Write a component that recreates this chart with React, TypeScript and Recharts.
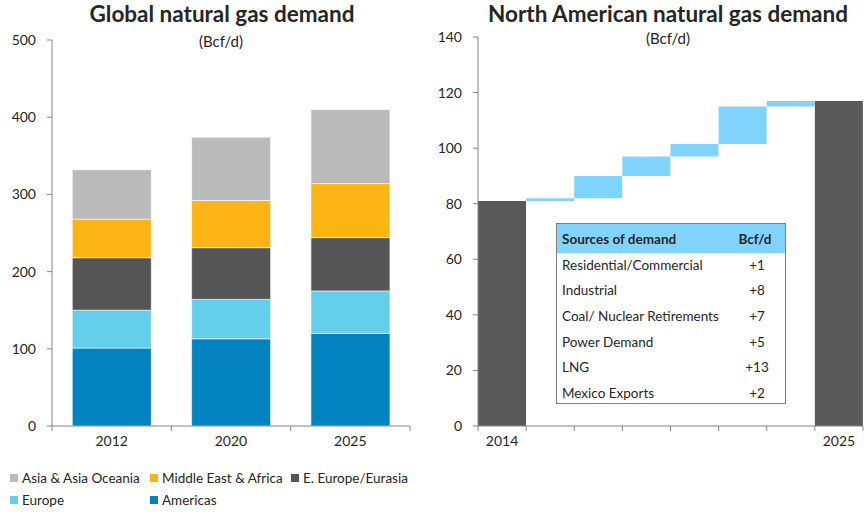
import { BarChart, Bar, XAxis, YAxis } from "recharts";

// left chart: global demand by region (Bcf/d)
const globalYears = ["2012", "2020", "2025"];
const americas = [101, 113, 120];
const europe = [49, 51, 55];
const eEurope = [68, 67, 69];
const middleEast = [50, 61, 70];
const asiaOceania = [64, 82, 96];
const globalTicks = [0, 100, 200, 300, 400, 500];

// right chart: North American waterfall (Bcf/d)
const naStartLabel = "2014";
const naEndLabel = "2025";
const naStart = 81;
const naEnd = 117;
const sources = [
  "Residential/Commercial",
  "Industrial",
  "Coal/ Nuclear Retirements",
  "Power Demand",
  "LNG",
  "Mexico Exports",
];
const sourceSteps = [1, 8, 7, 4.5, 13.5, 2];
const sourceLabels = ["+1", "+8", "+7", "+5", "+13", "+2"];
const naTicks = [0, 20, 40, 60, 80, 100, 120, 140];

const FONT = "Lato, 'Open Sans', sans-serif";
const TEXT = "#262626";
const AXIS = "#868686";

const globalSeries = [
  { key: "americas", name: "Americas", color: "#0283BF", values: americas },
  { key: "europe", name: "Europe", color: "#65CEEA", values: europe },
  { key: "eEurope", name: "E. Europe/Eurasia", color: "#555555", values: eEurope },
  { key: "middleEast", name: "Middle East & Africa", color: "#FDB515", values: middleEast },
  { key: "asia", name: "Asia & Asia Oceania", color: "#BBBBBB", values: asiaOceania },
];

const globalData = globalYears.map((year, i) => {
  const row: Record<string, string | number> = { year };
  globalSeries.forEach((s) => (row[s.key] = s.values[i]));
  return row;
});

const naData = (() => {
  const rows = [{ name: naStartLabel, base: 0, step: 0, total: naStart }];
  let running = naStart;
  sources.forEach((src, i) => {
    rows.push({ name: src, base: running, step: sourceSteps[i], total: 0 });
    running += sourceSteps[i];
  });
  rows.push({ name: naEndLabel, base: 0, step: 0, total: naEnd });
  return rows;
})();

const TICK_GAP = 10;

// Excel-style category ticks: marks sit on the boundaries between categories
function BoundaryTick(props: any) {
  const { x, y, payload, index, visibleTicksCount, showLabel } = props;
  const half = payload?.offset ?? 0;
  const axisY = y - TICK_GAP;
  const label = showLabel ? showLabel(payload.value, index, visibleTicksCount) : payload.value;
  return (
    <g>
      <line x1={x - half} x2={x - half} y1={axisY} y2={axisY + 5} stroke={AXIS} />
      {index === visibleTicksCount - 1 && (
        <line x1={x + half} x2={x + half} y1={axisY} y2={axisY + 5} stroke={AXIS} />
      )}
      <text x={x} y={y} dy="0.71em" textAnchor="middle" fill={TEXT} fontSize={14} fontFamily={FONT}>
        {label}
      </text>
    </g>
  );
}

const legendRows = [
  ["asia", "middleEast", "eEurope"],
  ["europe", "americas"],
];

export default function App() {
  return (
    <div
      style={{
        position: "absolute",
        left: 0,
        top: 0,
        width: 864,
        height: 514,
        background: "#fff",
        fontFamily: FONT,
        color: TEXT,
      }}
    >
      <div style={{ position: "absolute", left: 0, width: 444, top: 0, textAlign: "center", fontWeight: 700, fontSize: 22.5 }}>
        Global natural gas demand
      </div>
      <div style={{ position: "absolute", left: 0, width: 442, top: 32, textAlign: "center", fontSize: 15 }}>
        (Bcf/d)
      </div>
      <div style={{ position: "absolute", left: 440, width: 456, top: 0, textAlign: "center", fontWeight: 700, fontSize: 22.5 }}>
        North American natural gas demand
      </div>
      <div style={{ position: "absolute", left: 440, width: 456, top: 29, textAlign: "center", fontSize: 15 }}>
        (Bcf/d)
      </div>

      <div style={{ position: "absolute", left: 0, top: 0 }}>
        <BarChart
          width={430}
          height={460}
          data={globalData}
          margin={{ top: 40, right: 20, bottom: 0, left: 0 }}
          barCategoryGap="17%"
        >
          <XAxis
            dataKey="year"
            height={34}
            axisLine={{ stroke: AXIS }}
            tickSize={0}
            tickMargin={TICK_GAP}
            tick={<BoundaryTick />}
            interval={0}
          />
          <YAxis
            width={52}
            domain={[0, 500]}
            ticks={globalTicks}
            interval={0}
            axisLine={{ stroke: AXIS }}
            tickLine={{ stroke: AXIS }}
            tickSize={5}
            tickMargin={11}
            tick={{ fill: TEXT, fontSize: 14, fontFamily: FONT }}
          />
          {globalSeries.map((s) => (
            <Bar
              key={s.key}
              dataKey={s.key}
              name={s.name}
              stackId="g"
              fill={s.color}
              stroke="#ffffff"
              strokeWidth={0.6}
              isAnimationActive={false}
            />
          ))}
        </BarChart>
      </div>

      <div style={{ position: "absolute", left: 0, top: 468, width: 430, fontSize: 13.5 }}>
        {legendRows.map((row, r) =>
          row.map((key, c) => {
            const s = globalSeries.find((g) => g.key === key)!;
            return (
              <div
                key={key}
                style={{
                  position: "absolute",
                  left: [10, 150, 291][c],
                  top: r * 22,
                  display: "flex",
                  alignItems: "center",
                  height: 20,
                  whiteSpace: "nowrap",
                }}
              >
                <span style={{ width: 8, height: 8, background: s.color, display: "inline-block", marginRight: 4 }} />
                <span>{s.name}</span>
              </div>
            );
          })
        )}
      </div>

      <div style={{ position: "absolute", left: 432, top: 0 }}>
        <BarChart
          width={432}
          height={460}
          data={naData}
          margin={{ top: 37, right: 1, bottom: 0, left: 0 }}
          barCategoryGap={0}
          barGap={0}
        >
          <XAxis
            dataKey="name"
            height={34}
            axisLine={{ stroke: AXIS }}
            tickSize={0}
            tickMargin={TICK_GAP}
            interval={0}
            tick={
              <BoundaryTick
                showLabel={(v: string, i: number, n: number) => (i === 0 || i === n - 1 ? v : "")}
              />
            }
          />
          <YAxis
            width={46}
            domain={[0, 140]}
            ticks={naTicks}
            interval={0}
            axisLine={{ stroke: AXIS }}
            tickLine={{ stroke: AXIS }}
            tickSize={5}
            tickMargin={11}
            tick={{ fill: TEXT, fontSize: 14, fontFamily: FONT }}
          />
          <Bar dataKey="base" stackId="w" fill="transparent" isAnimationActive={false} />
          <Bar dataKey="step" stackId="w" fill="#80D4FE" isAnimationActive={false} />
          <Bar dataKey="total" stackId="w" fill="#595959" isAnimationActive={false} />
        </BarChart>
      </div>

      <div
        style={{
          position: "absolute",
          left: 556,
          top: 223,
          width: 228,
          height: 179,
          border: "1.5px solid #7F7F7F",
          background: "#fff",
          fontSize: 13.5,
          whiteSpace: "nowrap",
          overflow: "hidden",
        }}
      >
        <div style={{ display: "flex", alignItems: "center", height: 29, background: "#80D4FE", fontWeight: 700 }}>
          <span style={{ paddingLeft: 5, flex: 1 }}>Sources of demand</span>
          <span style={{ width: 60, textAlign: "center" }}>Bcf/d</span>
        </div>
        <div style={{ marginTop: -1 }}>
          {sources.map((src, i) => (
            <div key={src} style={{ display: "flex", alignItems: "center", height: 25.6 }}>
              <span style={{ paddingLeft: 5, flex: 1 }}>{src}</span>
              <span style={{ width: 56, textAlign: "center" }}>{sourceLabels[i]}</span>
            </div>
          ))}
        </div>
      </div>
    </div>
  );
}
